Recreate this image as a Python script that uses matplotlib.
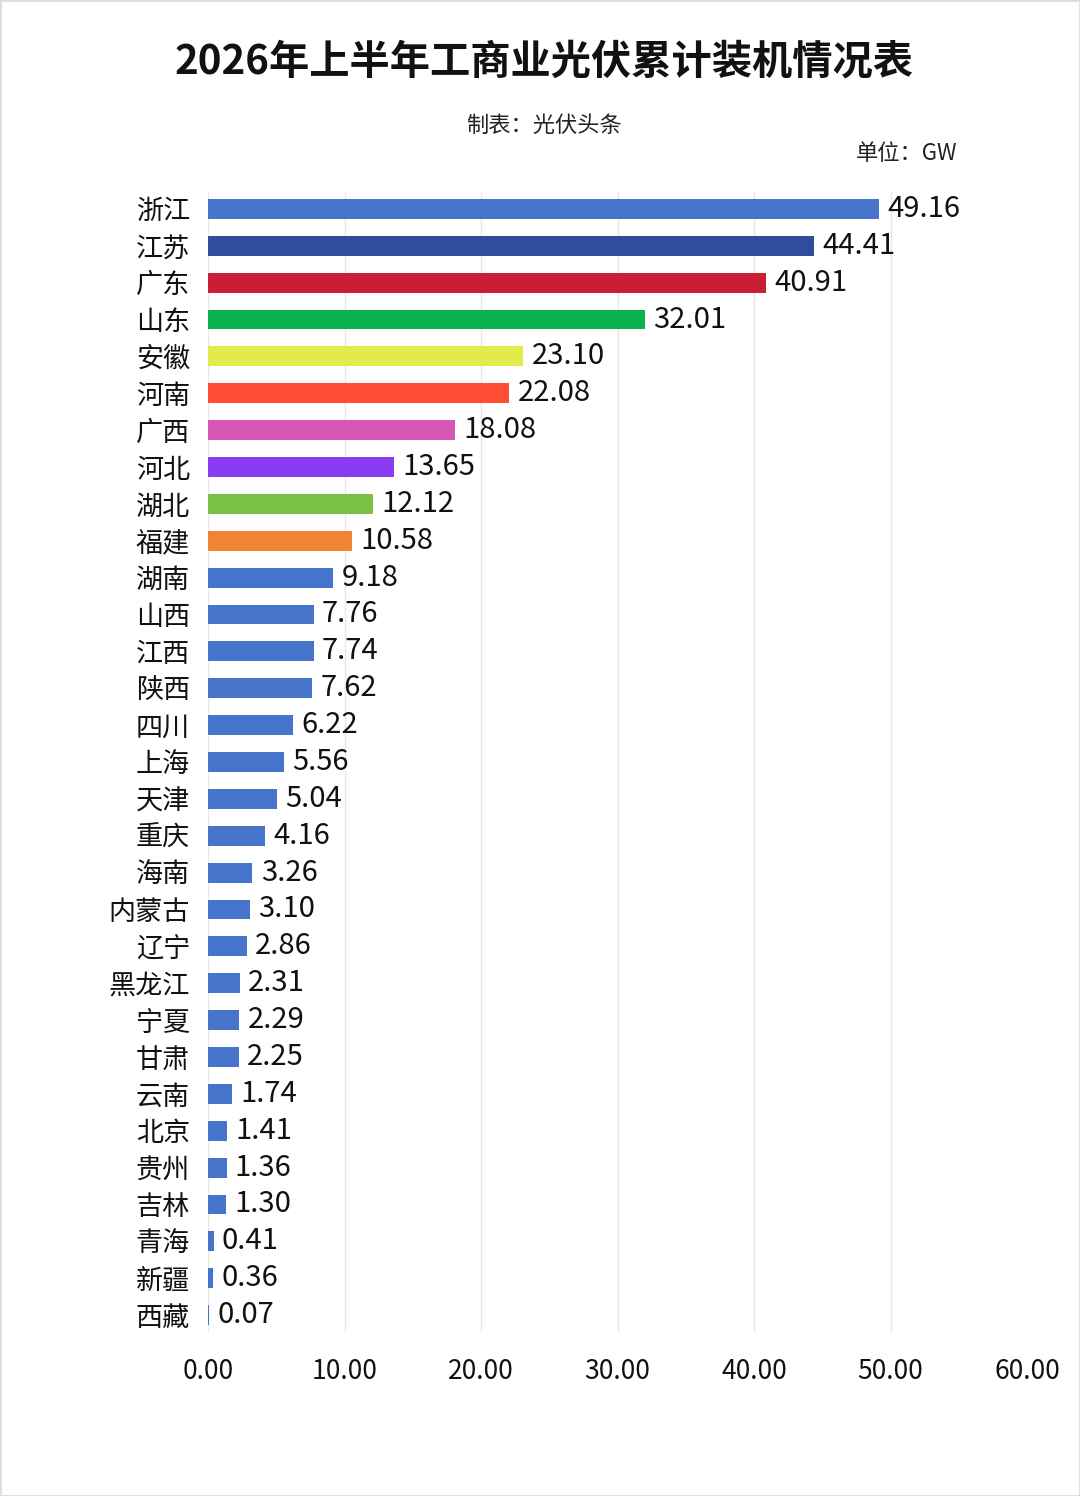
import matplotlib.pyplot as plt
from matplotlib.patches import Rectangle

plt.rcParams['font.family'] = ['Noto Sans CJK SC', 'DejaVu Sans']

provinces = ["浙江", "江苏", "广东", "山东", "安徽", "河南", "广西", "河北", "湖北", "福建",
             "湖南", "山西", "江西", "陕西", "四川", "上海", "天津", "重庆", "海南", "内蒙古",
             "辽宁", "黑龙江", "宁夏", "甘肃", "云南", "北京", "贵州", "吉林", "青海", "新疆", "西藏"]
values = [49.16, 44.41, 40.91, 32.01, 23.10, 22.08, 18.08, 13.65, 12.12, 10.58,
          9.18, 7.76, 7.74, 7.62, 6.22, 5.56, 5.04, 4.16, 3.26, 3.10,
          2.86, 2.31, 2.29, 2.25, 1.74, 1.41, 1.36, 1.30, 0.41, 0.36, 0.07]
top_colors = ["#4674CB", "#2E4E9C", "#C81F35", "#0AB24E", "#E2EB4A",
              "#FF4C33", "#D857B4", "#8A3CF4", "#7AC043", "#EE8434"]
default_color = "#4674CB"
colors = top_colors + [default_color] * (len(values) - len(top_colors))
xticks = [0, 10, 20, 30, 40, 50, 60]

fig = plt.figure(figsize=(10.8, 14.96), dpi=100)
fig.patches.append(Rectangle((0, 0), 1, 1, transform=fig.transFigure, fill=False,
                             edgecolor="#DDDDDD", linewidth=2))

ax = fig.add_axes([208 / 1080, 0.1096, (1027 - 208) / 1080, 0.8717 - 0.1096])
ypos = list(range(len(values)))
ax.barh(ypos, values, height=0.54, color=colors, zorder=3)

for y, v in zip(ypos, values):
    ax.text(v + 0.6, y, f"{v:.2f}", va="center", ha="left", fontsize=21,
            fontweight="medium", color="#111111")

ax.set_xlim(0, 60)
ax.set_ylim(len(values) - 0.54, -0.46)
ax.set_xticks(xticks)
ax.set_xticklabels([f"{t:.2f}" for t in xticks], fontsize=19, fontweight="medium", color="#111111")
ax.set_yticks(ypos)
ax.set_yticklabels(provinces, fontsize=19.5, fontweight="medium", color="#111111")
ax.tick_params(axis="both", length=0)
ax.tick_params(axis="y", pad=13)
ax.tick_params(axis="x", pad=19)
ax.grid(axis="x", color="#E8E8E8", linewidth=1, zorder=0)
for s in ax.spines.values():
    s.set_visible(False)

fig.text(0.504, 1 - 62 / 1496, "2026年上半年工商业光伏累计装机情况表", ha="center", va="center",
         fontsize=29, fontweight="bold", color="#111111")
fig.text(0.504, 1 - 125 / 1496, "制表：光伏头条", ha="center", va="center", fontsize=16,
         fontweight="medium", color="#222222")
fig.text(957 / 1080, 1 - 153 / 1496, "单位：GW", ha="right", va="center", fontsize=16,
         fontweight="medium", color="#222222")

fig.savefig("out.png", dpi=100, facecolor="white")
